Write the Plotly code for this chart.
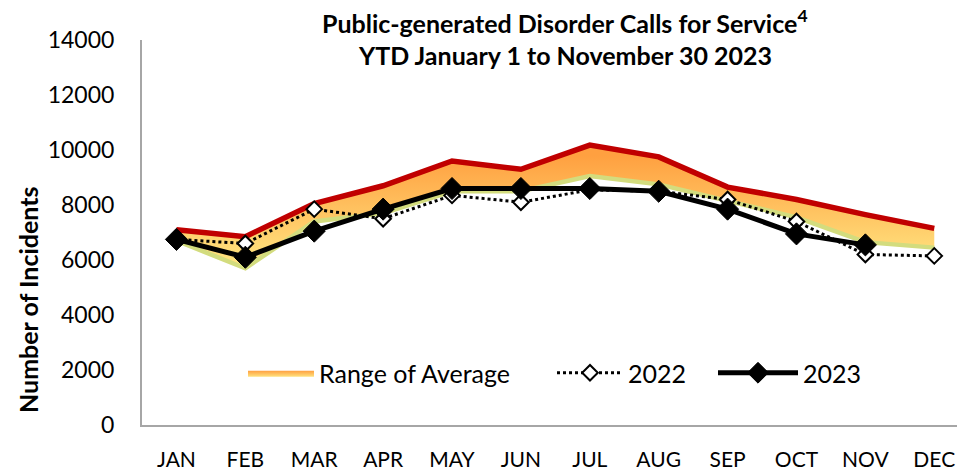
import plotly.graph_objects as go

months = ["JAN", "FEB", "MAR", "APR", "MAY", "JUN", "JUL", "AUG", "SEP", "OCT", "NOV", "DEC"]
range_low = [6700, 5700, 7400, 7700, 8500, 8500, 9050, 8750, 8150, 7550, 6650, 6450]
range_high = [7100, 6850, 8050, 8700, 9600, 9300, 10180, 9750, 8650, 8200, 7650, 7150]
y2022 = [6750, 6600, 7850, 7500, 8350, 8100, 8550, 8500, 8200, 7400, 6200, 6150]
y2023 = [6750, 6100, 7050, 7850, 8600, 8600, 8600, 8500, 7850, 6950, 6550]
y_ticks = [0, 2000, 4000, 6000, 8000, 10000, 12000, 14000]

FONT = "Lato, Calibri, Carlito, 'Open Sans', sans-serif"

# body margin is removed in the page (post_script), so figure px == screen px
W, H = 957, 471
L, T = 142, 40
B = H - 425
R = 0
PW, PH = W - L - R, H - T - B


def px_x(px):
    return (px - L) / PW


def px_y(py):
    return (H - B - py) / PH


fig = go.Figure()

fig.add_trace(go.Scatter(
    x=months, y=range_low, mode="lines",
    line=dict(color="#D3DC7E", width=4.5),
    showlegend=False, hoverinfo="skip",
))
fig.add_trace(go.Scatter(
    x=months, y=range_high, mode="lines", name="Range of Average",
    line=dict(width=0, color="rgba(0,0,0,0)"),
    fill="tonexty",
    fillgradient=dict(type="vertical", start=6000, stop=9800,
                      colorscale=[[0, "#FFE27E"], [1, "#FFA040"]]),
    fillcolor="#FFC860", legend="legend",
))
fig.add_trace(go.Scatter(
    x=months, y=range_high, mode="lines",
    line=dict(color="#C00000", width=5.5),
    showlegend=False, hoverinfo="skip",
))
fig.add_trace(go.Scatter(
    x=months, y=y2022, mode="lines+markers", name="2022",
    line=dict(color="black", width=3, dash="dot"),
    marker=dict(symbol="diamond", size=12, color="white",
                line=dict(color="black", width=2)),
    legend="legend2",
))
fig.add_trace(go.Scatter(
    x=months[:len(y2023)], y=y2023, mode="lines+markers", name="2023",
    line=dict(color="black", width=5),
    marker=dict(symbol="diamond", size=17, color="black",
                line=dict(color="black", width=1)),
    legend="legend3",
))

leg_common = dict(orientation="h", yanchor="middle", xanchor="left",
                  bgcolor="rgba(0,0,0,0)", font=dict(family=FONT, size=25),
                  y=px_y(373))

fig.update_layout(
    width=W, height=H,
    margin=dict(l=L, r=R, t=T, b=B, autoexpand=False),
    paper_bgcolor="white", plot_bgcolor="white",
    font=dict(family=FONT, size=23, color="black"),
    xaxis=dict(
        type="category", range=[-0.5, 11.33], automargin=False,
        showline=True, linecolor="#A6A6A6", linewidth=2,
        showgrid=False, ticks="", ticklabelstandoff=15,
        tickfont=dict(family=FONT, size=21),
    ),
    yaxis=dict(
        range=[0, 14000], tickvals=y_ticks, ticktext=[str(v) for v in y_ticks],
        automargin=False,
        showline=True, linecolor="#A6A6A6", linewidth=2,
        showgrid=False, ticks="", ticklabelstandoff=21,
        tickfont=dict(family=FONT, size=23), zeroline=False,
    ),
    legend=dict(**leg_common, x=px_x(243), itemwidth=66),
    legend2=dict(**leg_common, x=px_x(552), itemwidth=66),
    legend3=dict(**leg_common, x=px_x(713), itemwidth=80),
    showlegend=True,
    annotations=[
        dict(text="<b>Public-generated Disorder Calls for Service<sup>4</sup></b>",
             xref="paper", yref="paper", x=px_x(565), y=px_y(21),
             xanchor="center", yanchor="middle", showarrow=False,
             font=dict(family=FONT, size=25, color="black")),
        dict(text="<b>YTD January 1 to November 30 2023</b>",
             xref="paper", yref="paper", x=px_x(565), y=px_y(55),
             xanchor="center", yanchor="middle", showarrow=False,
             font=dict(family=FONT, size=25, color="black")),
        dict(text="<b>Number of Incidents</b>", textangle=-90,
             xref="paper", yref="paper", x=px_x(28), y=px_y(300),
             xanchor="center", yanchor="middle", showarrow=False,
             font=dict(family=FONT, size=25, color="black")),
    ],
)

fig.write_html(
    "out.html",
    config={"displayModeBar": False},
    post_script="document.body.style.margin='0';document.body.style.overflow='hidden';",
)
